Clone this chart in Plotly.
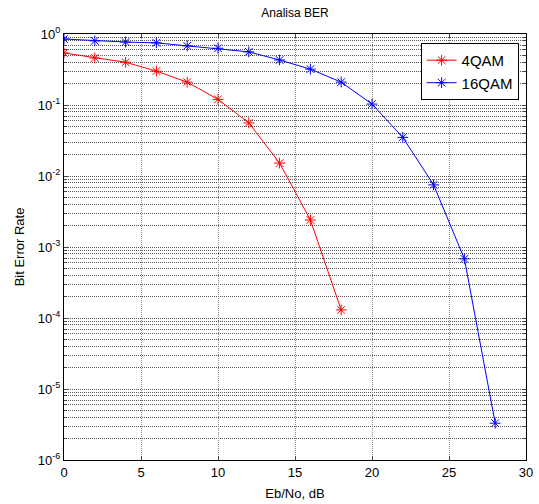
import plotly.graph_objects as go

ebno_4qam = [0, 2, 4, 6, 8, 10, 12, 14, 16, 18]
ber_4qam = [0.54, 0.46, 0.40, 0.30, 0.21, 0.12, 0.056, 0.0152, 0.0024, 1.3e-4]
ebno_16qam = [0, 2, 4, 6, 8, 10, 12, 14, 16, 18, 20, 22, 24, 26, 28]
ber_16qam = [0.85, 0.80, 0.77, 0.75, 0.68, 0.63, 0.56, 0.43, 0.32, 0.21, 0.103,
             0.035, 0.0075, 6.8e-4, 3.3e-6]
y_exponents = [-6, -5, -4, -3, -2, -1, 0]
x_ticks = [0, 5, 10, 15, 20, 25, 30]

font = "Liberation Sans, Arial, sans-serif"

fig = go.Figure()
fig.add_trace(go.Scatter(x=ebno_4qam, y=ber_4qam, name="4QAM", mode="lines+markers",
                         line=dict(color="#ff0000", width=1),
                         marker=dict(symbol="asterisk-open", size=9,
                                     line=dict(color="#ff0000", width=1))))
fig.add_trace(go.Scatter(x=ebno_16qam, y=ber_16qam, name="16QAM", mode="lines+markers",
                         line=dict(color="#0000ff", width=1),
                         marker=dict(symbol="asterisk-open", size=9,
                                     line=dict(color="#0000ff", width=1))))

minor_vals = [k * 10.0 ** e for e in y_exponents[:-1] for k in range(2, 10)]

fig.update_layout(
    width=539, height=504,
    margin=dict(l=64, r=13, t=34, b=44),
    paper_bgcolor="white", plot_bgcolor="white",
    font=dict(family=font, size=13, color="black"),
    title=dict(text="Analisa BER", x=(64 + 526) / 2 / 539, xanchor="center",
               y=1 - 13 / 504, yanchor="middle", font=dict(size=12)),
    showlegend=True,
    legend=dict(x=0.984, y=0.979, xanchor="right", yanchor="top",
                bordercolor="black", borderwidth=1, bgcolor="white",
                font=dict(size=15), tracegroupgap=0),
    xaxis=dict(range=[0, 30], tickvals=x_ticks, ticks="inside", ticklen=4,
               showline=True, linecolor="black", linewidth=1, mirror="allticks",
               showgrid=True, gridcolor="#888", griddash="1px,1px", gridwidth=1,
               zeroline=False, automargin=False,
               title=dict(text="Eb/No, dB", standoff=10, font=dict(size=13)),
               tickfont=dict(size=13)),
    yaxis=dict(type="log", range=[-6, 0],
               tickvals=[10.0 ** e for e in y_exponents],
               ticktext=["10<sup>%d</sup>" % e for e in y_exponents],
               ticks="inside", ticklen=4,
               showline=True, linecolor="black", linewidth=1, mirror="allticks",
               showgrid=True, gridcolor="#555", griddash="1px,1px", gridwidth=1,
               zeroline=False, automargin=False,
               minor=dict(tickvals=minor_vals, ticks="inside", ticklen=3,
                          showgrid=True, gridcolor="#555", griddash="1px,1px", gridwidth=1),
               title=dict(text="Bit Error Rate", standoff=10, font=dict(size=13)),
               tickfont=dict(size=13)),
)

fig.write_html("out.html", config={"displayModeBar": False},
               post_script="document.body.style.margin='0';")
